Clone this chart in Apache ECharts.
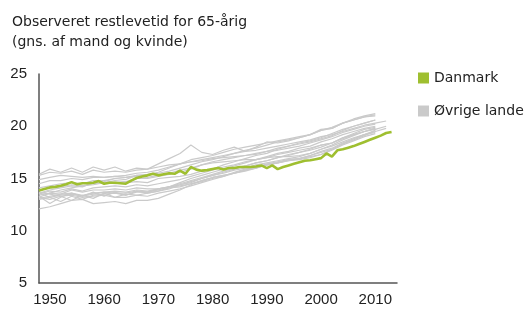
<!DOCTYPE html>
<html>
<head>
<meta charset="utf-8">
<script src="https://cdn.jsdelivr.net/npm/echarts@6/dist/echarts.min.js"></script>
<style>
  html, body { margin: 0; padding: 0; background: #fff; }
  #main { width: 525px; height: 309px; }
</style>
</head>
<body>
<div id="main"></div>
<script>
var xTicks = [1950, 1960, 1970, 1980, 1990, 2000, 2010];

// Danmark 1948-2013, hvert år
var danmarkStart = 1948;
var danmark = [13.85, 14.0, 14.15, 14.2, 14.3, 14.45, 14.65, 14.45, 14.55, 14.55,
    14.6, 14.75, 14.5, 14.6, 14.6, 14.55, 14.5, 14.8, 15.05, 15.2,
    15.3, 15.45, 15.3, 15.4, 15.5, 15.45, 15.75, 15.45, 16.1, 15.85,
    15.75, 15.8, 15.9, 16.0, 15.85, 16.0, 16.0, 16.1, 16.1, 16.1,
    16.15, 16.25, 16.0, 16.25, 15.9, 16.1, 16.25, 16.4, 16.55, 16.7,
    16.75, 16.85, 16.95, 17.4, 17.1, 17.7, 17.8, 17.95, 18.1, 18.3,
    18.5, 18.7, 18.9, 19.1, 19.35, 19.45];

// øvrige lande, hvert andet år fra 1948
var landeStart = 1948;
var ovrigeLande = [
    [15.4, 15.9, 15.6, 16.0, 15.6, 16.1, 15.8, 16.1, 15.7, 16.0, 15.9, 16.4, 16.9, 17.4, 18.2, 17.5, 17.3, 17.7, 18.0, 17.6, 18.0, 18.5, 18.4, 18.6, 18.9, 19.2, 19.6, 19.8, 20.3, 20.7, 21.0, 21.2],
    [15.3, 15.6, 15.5, 15.7, 15.4, 15.8, 15.6, 15.7, 15.6, 15.8, 15.9, 16.1, 16.3, 16.4, 16.6, 16.7, 16.9, 17.0, 17.1, 17.2, 17.3, 17.6, 17.7, 17.9, 18.1, 18.4, 18.7, 19.0, 19.4, 19.7, 20.0, 20.2],
    [14.5, 14.8, 14.8, 15.0, 14.9, 15.1, 15.1, 15.2, 15.3, 15.5, 15.6, 15.8, 16.1, 16.4, 16.6, 16.8, 17.0, 17.2, 17.4, 17.6, 17.7, 17.9, 18.1, 18.3, 18.5, 18.7, 19.0, 19.2, 19.5, 19.8, 20.1, 20.3, 20.5],
    [14.9, 15.1, 15.3, 15.2, 15.1, 15.2, 15.1, 15.2, 15.1, 15.2, 15.1, 15.3, 15.5, 15.8, 16.0, 16.3, 16.5, 16.6, 16.7, 16.8, 16.8, 17.0, 17.1, 17.1, 17.2, 17.4, 17.8, 18.2, 18.7, 19.1, 19.5, 19.8],
    [14.1, 14.3, 14.5, 14.6, 14.5, 14.8, 14.8, 15.0, 15.1, 15.3, 15.4, 15.6, 16.0, 16.4, 16.8, 17.0, 17.2, 17.5, 17.8, 18.0, 18.2, 18.4, 18.6, 18.8, 19.0, 19.2, 19.6, 19.9, 20.3, 20.6, 20.9, 21.0],
    [13.6, 13.9, 14.1, 14.3, 14.2, 14.6, 14.7, 15.0, 14.9, 15.3, 15.3, 15.5, 15.7, 16.0, 16.3, 16.6, 16.8, 17.1, 17.4, 17.7, 17.9, 18.2, 18.5, 18.7, 18.9, 19.2, 19.7, 19.8, 20.3, 20.6, 20.9, 21.1],
    [13.4, 13.6, 13.5, 13.9, 13.7, 13.9, 13.9, 14.0, 13.9, 14.1, 14.0, 14.0, 14.2, 14.3, 14.5, 14.7, 15.0, 15.2, 15.5, 15.7, 16.0, 16.3, 16.5, 16.8, 16.9, 17.2, 17.5, 17.8, 18.3, 18.7, 19.1, 19.6],
    [13.5, 13.8, 13.7, 14.0, 13.8, 14.1, 14.2, 14.3, 14.2, 14.4, 14.3, 14.5, 14.7, 14.9, 15.2, 15.5, 15.8, 16.1, 16.3, 16.6, 16.8, 17.0, 17.3, 17.5, 17.7, 17.9, 18.2, 18.4, 18.9, 19.2, 19.5, 19.8],
    [13.9, 14.1, 14.2, 14.4, 14.3, 14.5, 14.6, 14.5, 14.6, 14.7, 14.6, 15.0, 15.1, 15.2, 15.4, 15.7, 15.9, 16.3, 16.6, 16.9, 17.2, 17.4, 17.8, 18.1, 18.4, 18.6, 18.9, 19.3, 19.7, 20.0, 20.3, 20.6],
    [13.2, 13.6, 13.9, 14.1, 14.3, 14.4, 14.6, 14.8, 14.7, 15.0, 15.0, 15.2, 15.4, 15.6, 15.9, 16.3, 16.6, 16.8, 17.0, 17.2, 17.4, 17.6, 17.9, 18.1, 18.3, 18.5, 18.8, 19.1, 19.6, 20.0, 20.3, 20.6],
    [13.1, 13.3, 13.5, 13.6, 13.4, 13.6, 13.7, 13.8, 13.7, 13.9, 13.8, 14.0, 14.2, 14.4, 14.7, 15.0, 15.3, 15.5, 15.8, 16.0, 16.3, 16.5, 16.7, 16.9, 17.1, 17.4, 17.8, 18.1, 18.5, 18.9, 19.2, 19.5, 19.8],
    [13.0, 13.2, 13.4, 13.5, 13.3, 13.5, 13.7, 13.6, 13.6, 13.8, 13.7, 14.0, 14.2, 14.5, 14.8, 15.1, 15.4, 15.7, 16.0, 16.2, 16.5, 16.7, 17.0, 17.3, 17.5, 17.8, 18.2, 18.4, 18.8, 19.2, 19.5, 19.7, 20.0],
    [12.1, 12.3, 12.6, 12.9, 13.0, 12.6, 12.7, 12.8, 12.6, 12.9, 12.9, 13.1, 13.5, 13.9, 14.4, 14.8, 15.1, 15.3, 15.5, 15.8, 16.0, 16.3, 16.5, 16.7, 16.9, 17.2, 17.6, 17.9, 18.4, 18.8, 19.2, 19.6],
    [13.3, 12.6, 13.2, 13.6, 13.3, 13.7, 13.3, 13.7, 13.4, 13.8, 13.6, 13.8, 14.1, 14.2, 14.5, 14.8, 15.1, 15.3, 15.5, 15.8, 16.1, 16.4, 16.6, 16.8, 16.9, 17.1, 17.3, 17.7, 18.2, 18.6, 19.0, 19.3],
    [13.7, 13.5, 13.3, 13.4, 13.2, 13.3, 13.4, 13.2, 13.2, 13.4, 13.3, 13.6, 13.8, 14.0, 14.3, 14.6, 14.9, 15.2, 15.6, 15.9, 16.1, 16.3, 16.5, 16.7, 16.8, 17.0, 17.3, 17.8, 18.3, 18.8, 19.2, 19.4],
    [13.2, 13.0, 13.3, 12.9, 13.4, 13.1, 13.6, 13.2, 13.5, 13.4, 13.6, 13.8, 14.0, 14.4, 14.6, 15.0, 15.3, 15.6, 15.9, 16.2, 16.5, 16.7, 17.0, 17.2, 17.5, 17.7, 18.0, 18.4, 18.9, 19.3, 19.7, 19.9],
    [13.6, 13.2, 12.8, 13.3, 13.0, 13.4, 13.5, 13.6, 13.4, 13.7, 13.7, 13.9, 14.2, 14.6, 15.0, 15.3, 15.6, 15.9, 16.2, 16.5, 16.8, 17.1, 17.4, 17.6, 17.9, 18.1, 18.5, 18.8, 19.2, 19.5, 19.8, 20.0]
];

var green = '#9fbf30';
var grey = '#cacaca';
var labelFont = 'Liberation Sans, Arial, sans-serif';
var textFont = 'DejaVu Sans, sans-serif';

function toPoints(start, step, values) {
    var pts = [];
    for (var i = 0; i < values.length; i++) {
        pts.push([start + i * step, values[i]]);
    }
    return pts;
}

var series = [];
for (var k = 0; k < ovrigeLande.length; k++) {
    series.push({
        name: 'Øvrige lande',
        type: 'line',
        data: toPoints(landeStart, 2, ovrigeLande[k]),
        symbol: 'none',
        lineStyle: { color: grey, width: 1.2 },
        itemStyle: { color: grey },
        silent: true
    });
}
series.push({
    name: 'Danmark',
    type: 'line',
    data: toPoints(danmarkStart, 1, danmark),
    symbol: 'none',
    z: 5,
    lineStyle: { color: green, width: 2.6 },
    itemStyle: { color: green }
});

var chart = echarts.init(document.getElementById('main'));
chart.setOption({
    animation: false,
    textStyle: { fontFamily: labelFont },
    title: {
        text: 'Observeret restlevetid for 65-årig\n(gns. af mand og kvinde)',
        left: 12,
        top: 12,
        padding: 0,
        textStyle: { fontSize: 14, fontWeight: 'normal', color: '#222', lineHeight: 20, fontFamily: textFont }
    },
    legend: {
        data: ['Danmark', 'Øvrige lande'],
        orient: 'vertical',
        left: 413,
        top: 66,
        icon: 'rect',
        itemWidth: 11,
        itemHeight: 11,
        itemGap: 19,
        textStyle: { fontSize: 14, color: '#222', fontFamily: textFont }
    },
    grid: { left: 39, right: 128, top: 74, bottom: 26 },
    xAxis: {
        type: 'value',
        min: 1948,
        max: 2014,
        splitLine: { show: false },
        axisTick: { show: false },
        axisLine: { lineStyle: { color: '#555', width: 1.5 } },
        axisLabel: {
            customValues: xTicks,
            formatter: function (v) { return String(v); },
            fontSize: 15,
            color: '#222',
            margin: 9
        }
    },
    yAxis: {
        type: 'value',
        min: 5,
        max: 25,
        interval: 5,
        splitLine: { show: false },
        axisTick: { show: false },
        axisLine: { show: true, lineStyle: { color: '#555', width: 1.5 } },
        axisLabel: { fontSize: 15, color: '#222', margin: 12 }
    },
    series: series
});
</script>
</body>
</html>
